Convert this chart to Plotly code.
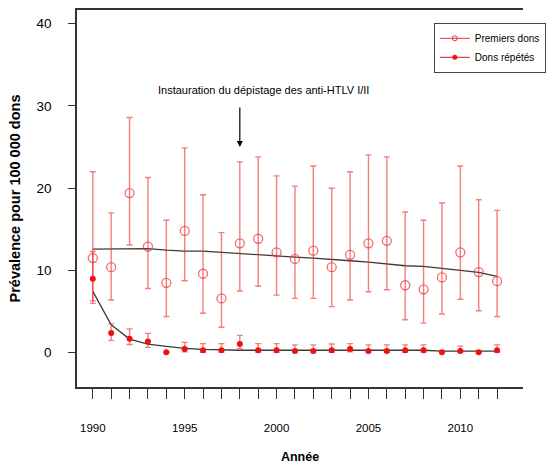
import plotly.graph_objects as go

years = list(range(1990, 2013))

# Premiers dons (first-time donors)
prem_val = [11.5, 10.4, 19.4, 12.9, 8.5, 14.8, 9.6, 6.6, 13.3, 13.85, 12.2, 11.4,
            12.4, 10.4, 11.9, 13.3, 13.6, 8.2, 7.7, 9.15, 12.2, 9.8, 8.7]
prem_hi = [22.0, 17.0, 28.6, 21.3, 16.1, 24.9, 19.2, 14.6, 23.2, 23.8, 21.5, 20.25,
           22.7, 20.0, 22.0, 24.05, 23.8, 17.1, 16.1, 18.2, 22.7, 18.6, 17.3]
prem_lo = [6.0, 6.4, 13.1, 7.8, 4.4, 8.75, 4.8, 3.1, 7.5, 8.1, 7.0, 6.6,
           6.6, 5.6, 6.4, 7.4, 7.65, 4.0, 3.6, 4.7, 6.5, 5.1, 4.4]
prem_trend = [12.6, 12.62, 12.63, 12.64, 12.47, 12.35, 12.35, 12.19, 12.03, 11.95, 11.79, 11.62,
              11.5, 11.38, 11.18, 11.02, 10.77, 10.57, 10.49, 10.25, 10.0, 9.76, 9.27]

# Dons répétés (repeat donors)
rep_val = [9.0, 2.4, 1.7, 1.35, 0.05, 0.45, 0.3, 0.3, 1.05, 0.3, 0.3, 0.2,
           0.2, 0.3, 0.45, 0.2, 0.2, 0.3, 0.3, 0.05, 0.2, 0.05, 0.3]
rep_hi = [12.3, 3.5, 2.9, 2.35, 0.05, 1.25, 1.1, 1.1, 2.1, 1.1, 1.1, 0.95,
          0.95, 1.05, 1.1, 0.95, 0.95, 0.95, 0.95, 0.05, 0.8, 0.05, 0.95]
rep_lo = [6.3, 1.5, 1.0, 0.65, 0.05, 0.1, 0.05, 0.05, 0.5, 0.05, 0.05, 0.05,
          0.05, 0.05, 0.1, 0.05, 0.05, 0.05, 0.05, 0.05, 0.05, 0.05, 0.05]
rep_trend = [7.45, 3.4, 1.66, 1.05, 0.77, 0.53, 0.4, 0.32, 0.3, 0.3, 0.3, 0.3,
             0.3, 0.3, 0.3, 0.3, 0.3, 0.3, 0.3, 0.2, 0.2, 0.2, 0.2]

label_years = [1990, 1995, 2000, 2005, 2010]

FONT = "Liberation Sans Narrow, Arial Narrow, Liberation Sans, Arial"
ERR = "rgba(235,40,40,0.6)"

fig = go.Figure()

fig.add_trace(go.Scatter(
    x=years, y=prem_trend, mode="lines",
    line=dict(color="#3a3a3a", width=1.3), showlegend=False, hoverinfo="skip"))
fig.add_trace(go.Scatter(
    x=years, y=rep_trend, mode="lines",
    line=dict(color="#3a3a3a", width=1.3), showlegend=False, hoverinfo="skip"))

fig.add_trace(go.Scatter(
    x=years, y=prem_val, mode="markers", showlegend=False,
    marker=dict(symbol="circle-open", size=9, color="rgba(235,60,60,0.75)", line=dict(width=1.3)),
    error_y=dict(type="data", symmetric=False,
                 array=[h - v for h, v in zip(prem_hi, prem_val)],
                 arrayminus=[v - l for v, l in zip(prem_val, prem_lo)],
                 color=ERR, thickness=1.4, width=3)))
fig.add_trace(go.Scatter(
    x=years, y=rep_val, mode="markers", showlegend=False,
    marker=dict(symbol="circle", size=6, color="#ee1111"),
    error_y=dict(type="data", symmetric=False,
                 array=[h - v for h, v in zip(rep_hi, rep_val)],
                 arrayminus=[v - l for v, l in zip(rep_val, rep_lo)],
                 color=ERR, thickness=1.4, width=3)))

# legend entries
fig.add_trace(go.Scatter(
    x=[None], y=[None], mode="lines+markers", name="Premiers dons",
    line=dict(color="#ee3333", width=1),
    marker=dict(symbol="circle-open", size=5, color="#ee3333")))
fig.add_trace(go.Scatter(
    x=[None], y=[None], mode="lines+markers", name="Dons répétés",
    line=dict(color="#ee1111", width=1),
    marker=dict(symbol="circle", size=5, color="#ee1111")))

fig.add_annotation(x=1998.0, y=25.0, ax=1998.0, ay=30.0, xref="x", yref="y",
                   axref="x", ayref="y", text="", showarrow=True,
                   arrowhead=2, arrowsize=1, arrowwidth=1.2, arrowcolor="black")
fig.add_annotation(x=1999.3, y=31.9, xref="x", yref="y", showarrow=False,
                   text="Instauration du dépistage des anti-HTLV I/II",
                   font=dict(family=FONT, size=11, color="black"))

fig.update_layout(
    width=546, height=467,
    margin=dict(l=77, r=0, t=10, b=80),
    paper_bgcolor="white", plot_bgcolor="white",
    font=dict(family=FONT, size=11, color="black"),
    legend=dict(x=0.80, y=0.966, xanchor="left", yanchor="top",
                bordercolor="#444", borderwidth=1, bgcolor="white",
                font=dict(family=FONT, size=10), itemwidth=30,
                tracegroupgap=0),
    xaxis=dict(range=[1989.14, 2013.41], showgrid=False, zeroline=False,
               showline=True, linecolor="#333", linewidth=1.5, mirror=True,
               ticks="outside", ticklen=10, tickcolor="#333", tickwidth=1.3,
               tickvals=years,
               ticktext=[str(y) if y in label_years else "" for y in years],
               ticklabelstandoff=19, tickfont=dict(size=11.5),
               title=dict(text="<b>Année</b>", standoff=20,
                          font=dict(family=FONT, size=12.5))),
    yaxis=dict(range=[-4.17, 41.66], showgrid=False, zeroline=False,
               showline=True, linecolor="#333", linewidth=1.5,
               ticks="outside", ticklen=7, tickcolor="#333", tickwidth=1.3,
               tickvals=[0, 10, 20, 30, 40], ticklabelstandoff=14,
               tickfont=dict(size=13.5),
               title=dict(text="<b>Prévalence pour 100 000 dons</b>", standoff=12,
                          font=dict(family="Liberation Sans, Arial", size=14.5))),
)

fig.write_html("out.html")
